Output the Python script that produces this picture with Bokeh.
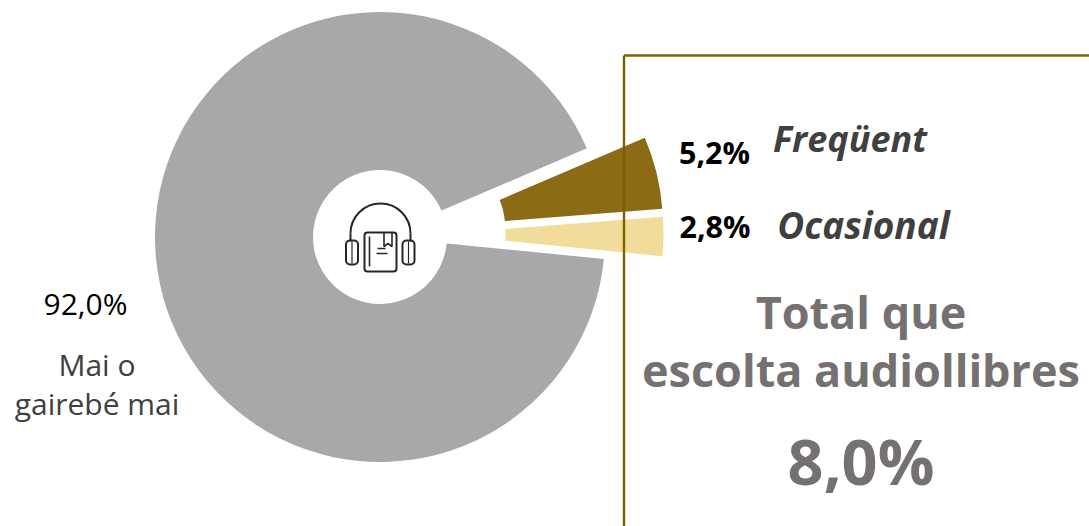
import math
from bokeh.plotting import figure
from bokeh.models import Range1d
from bokeh.core.properties import value
from bokeh.embed import file_html
from bokeh.resources import INLINE

# --- data ---
segments = ["Mai o gairebé mai", "Freqüent", "Ocasional"]
shares = [92.0, 5.2, 2.8]
share_labels = ["92,0%", "5,2%", "2,8%"]
total_label = "8,0%"
colors = ["#a8a8a8", "#8b6b14", "#f1dc9c"]
explode_x = [0, 58, 58.5]
explode_y = [0, 10.7, 2.7]

W, H = 1089, 526
OX, OY = 0, 0
PAGE_H = OY + H

def Y(y):
    return PAGE_H + OY - y

p = figure(width=W, height=H, output_backend="svg", toolbar_location=None,
           x_range=Range1d(OX, OX + W), y_range=Range1d(OY, OY + H),
           x_axis_location=None, y_axis_location=None, min_border=0,
           outline_line_color=None, background_fill_color="white", border_fill_color="white")
p.grid.visible = False

# pie
cx, cy = 379.5, Y(236.5)
r_out, r_in = 225, 67
start = math.radians(-5.6)
order = [2, 1, 0]
a = start
for i in order:
    sweep = shares[i] / 100 * 2 * math.pi
    p.annular_wedge(x=[cx + explode_x[i]], y=[cy + explode_y[i]],
                    inner_radius=r_in, outer_radius=r_out, start_angle=a, end_angle=a + sweep,
                    direction="anticlock", fill_color=colors[i], line_color=None)
    a += sweep

# frame
frame = "#7f6000"
p.segment(x0=[623.5, 623.5], y0=[Y(55), Y(55)], x1=[623.5, OX + W], y1=[Y(OY + H), Y(55)],
          line_color=frame, line_width=2.4)

# icon
ic = "#262626"
lw = 2
p.arc(x=[380], y=[Y(233)], radius=30, start_angle=0, end_angle=math.pi, line_color=ic, line_width=lw)
p.segment(x0=[350, 410], y0=[Y(233), Y(233)], x1=[350, 410], y1=[Y(241), Y(241)], line_color=ic, line_width=lw)
p.rect(x=[351.5, 408], y=[Y(252), Y(252)], width=12, height=24, fill_color=None, line_color=ic, line_width=lw,
       border_radius=4)
p.segment(x0=[351.5, 408], y0=[Y(241), Y(241)], x1=[351.5, 408], y1=[Y(263), Y(263)], line_color=ic, line_width=1.2)
p.rect(x=[380], y=[Y(251.5)], width=32, height=39, fill_color=None, line_color=ic, line_width=lw, border_radius=3)
p.segment(x0=[369, 376, 377], y0=[Y(236), Y(253), Y(248)], x1=[369, 387, 385], y1=[Y(266), Y(253), Y(248)],
          line_color=ic, line_width=1.6)
p.line(x=[383.5, 383.5, 387.5, 391.5, 391.5], y=[Y(232), Y(246), Y(243), Y(246), Y(232)], line_color=ic, line_width=1.6)

def txt(s, x, y, size, color="#000000", style="normal", font="Open Sans"):
    p.text(x=[x], y=[Y(y)], text=[s], text_font=value(font), text_font_size=f"{size}px",
           text_font_style=style, text_color=color, text_align="center", text_baseline="middle")

txt(share_labels[0], 85, 303, 30)
txt("Mai o", 96.5, 364, 30, "#404040")
txt("gairebé mai", 96.5, 403, 30, "#404040")
txt(share_labels[1], 714, 151, 30.5, style="bold")
txt(share_labels[2], 714.5, 225, 30.5, style="bold")
txt(segments[1], 849.5, 138, 36, "#404040", "bold italic")
txt(segments[2], 863, 224, 37, "#404040", "bold italic")
txt("Total que", 860.5, 311, 45, "#767171", "bold")
txt("escolta audiollibres", 860.5, 369, 45, "#767171", "bold")
txt(total_label, 860.5, 460, 63, "#767171", "bold")

open("out.html", "w").write(file_html(p, INLINE))
